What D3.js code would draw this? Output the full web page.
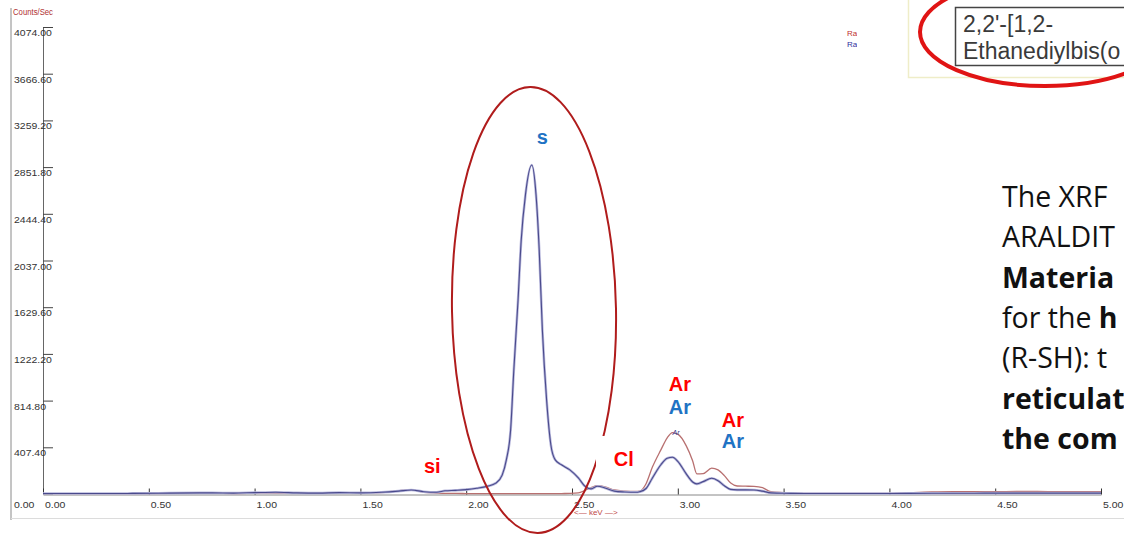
<!DOCTYPE html>
<html>
<head>
<meta charset="utf-8">
<script src="https://cdn.jsdelivr.net/npm/d3@7"></script>
<style>
  html, body { margin: 0; padding: 0; background: #fff; }
  svg { display: block; }
</style>
</head>
<body>
<svg id="chart" width="1124" height="534"></svg>
<script>
// XRF spectrum: energy (keV) against count rate (counts/sec) for two samples
const energyKeV = [
  0.00, 0.20, 0.40, 0.60, 0.80, 0.90, 1.00, 1.10, 1.20, 1.30, 1.40, 1.50,
  1.60, 1.68, 1.74, 1.80, 1.86, 1.90, 1.95, 2.00, 2.05, 2.10, 2.14, 2.17,
  2.19, 2.21, 2.225, 2.245, 2.26, 2.28, 2.31, 2.33, 2.345, 2.36, 2.38, 2.40,
  2.42, 2.45, 2.49, 2.53, 2.56, 2.59, 2.62, 2.66, 2.70, 2.75, 2.80, 2.82,
  2.85, 2.88, 2.92, 2.95, 2.975, 3.00, 3.04, 3.07, 3.09, 3.12, 3.16, 3.19,
  3.22, 3.25, 3.28, 3.32, 3.36, 3.40, 3.44, 3.50, 3.60, 3.80, 4.00, 4.20,
  4.30, 4.40, 4.50, 4.60, 4.70, 4.80, 4.90, 5.00
];
const countsBlue = [
  5, 5, 5, 8, 10, 8, 12, 15, 10, 8, 12, 10,
  15, 25, 35, 20, 15, 28, 32, 38, 50, 68, 95, 165,
  300, 560, 1080, 1690, 2215, 2610, 2870, 2610, 2130, 1430, 820, 430,
  300, 255, 210, 140, 70, 45, 68, 50, 25, 18, 15, 20,
  48, 140, 255, 312, 320, 285, 175, 105, 88, 108, 137, 116,
  72, 40, 36, 36, 35, 25, 10, 6, 5, 5, 5, 6,
  7, 7, 8, 8, 8, 8, 8, 8
];
const countsRed = [
  3, 3, 3, 5, 6, 4, 6, 8, 5, 5, 7, 6,
  12, 30, 38, 15, 8, 5, 5, 4, 3, 3, 3, 3,
  3, 3, 3, 3, 3, 3, 3, 3, 3, 3, 3, 3,
  3, 4, 5, 10, 30, 55, 72, 60, 35, 25, 22, 25,
  90, 235, 385, 490, 535, 522, 420, 290, 175, 178, 225, 210,
  160, 95, 70, 68, 66, 55, 20, 12, 6, 6, 6, 18,
  20, 20, 20, 22, 22, 20, 20, 20
];

const xTickValues = [0, 0.5, 1, 1.5, 2, 2.5, 3, 3.5, 4, 4.5, 5];
const yTickValues = [0, 407.4, 814.8, 1222.2, 1629.6, 2037, 2444.4, 2851.8, 3259.2, 3666.6, 4074];

// element annotations placed at an energy (keV) and a baseline row
const peakLabels = [
  { text: "s",  x: 2.36, y: 144, color: "#1f73c4" },
  { text: "si", x: 1.84, y: 473, color: "#ff0000" },
  { text: "Cl", x: 2.745, y: 466, color: "#ff0000" },
  { text: "Ar", x: 3.01, y: 391, color: "#ff0000" },
  { text: "Ar", x: 3.01, y: 414, color: "#1f73c4" },
  { text: "Ar", x: 3.26, y: 427, color: "#ff0000" },
  { text: "Ar", x: 3.26, y: 448, color: "#1f73c4" }
];

const noteLines = [
  [{ t: "The XRF", b: false }],
  [{ t: "ARALDIT", b: false }],
  [{ t: "Materia", b: true }],
  [{ t: "for the ", b: false }, { t: "h", b: true }],
  [{ t: "(R-SH): t", b: false }],
  [{ t: "reticulat", b: true }],
  [{ t: "the com", b: true }]
];

const svg = d3.select("#chart");

const x = d3.scaleLinear().domain([0, 5]).range([43, 1101]);
const y = d3.scaleLinear().domain([0, 4074]).range([494, 27]);

const fmt = d3.format(".2f");
// the instrument font is drawn wide: stretch each label to its digit count
const labelWidth = s => s.replace(".", "").length * 5.8 + 3;

// outer frame lines
svg.append("line").attr("x1", 11).attr("x2", 11).attr("y1", 8).attr("y2", 520)
  .attr("stroke", "#8a8a8a").attr("stroke-width", 1);
svg.append("line").attr("x1", 11).attr("x2", 1124).attr("y1", 518.5).attr("y2", 518.5)
  .attr("stroke", "#dcdcdc").attr("stroke-width", 1);

svg.append("text").attr("x", 13).attr("y", 15)
  .attr("font-family", "Liberation Sans, Arial, sans-serif")
  .attr("font-size", 8.5).attr("fill", "#b03030")
  .attr("textLength", 40).attr("lengthAdjust", "spacingAndGlyphs")
  .text("Counts/Sec");

// y axis
const yAxis = d3.axisRight(y).tickValues(yTickValues).tickSize(10).tickFormat("");
const gy = svg.append("g").attr("transform", "translate(43,0)").call(yAxis);
gy.select(".domain").attr("stroke", "#666");
gy.selectAll(".tick line").attr("stroke", "#444");
svg.append("g").selectAll("text").data(yTickValues).join("text")
  .attr("x", 14).attr("y", d => d === 0 ? 508 : y(d) + 9)
  .attr("font-family", "Liberation Sans, Arial, sans-serif")
  .attr("font-size", 9).attr("fill", "#333")
  .attr("textLength", d => labelWidth(fmt(d))).attr("lengthAdjust", "spacingAndGlyphs")
  .text(d => fmt(d));

// x axis
const xAxis = d3.axisTop(x).tickValues(xTickValues).tickSize(6).tickSizeOuter(0).tickFormat("");
const gx = svg.append("g").attr("transform", "translate(0,494.5)").call(xAxis);
gx.select(".domain").attr("stroke", "#888");
gx.selectAll(".tick line").attr("stroke", "#333");
svg.append("g").selectAll("text").data(xTickValues).join("text")
  .attr("x", d => x(d) + 2).attr("y", 508)
  .attr("font-family", "Liberation Sans, Arial, sans-serif")
  .attr("font-size", 9).attr("fill", "#333")
  .attr("textLength", d => labelWidth(fmt(d))).attr("lengthAdjust", "spacingAndGlyphs")
  .text(d => fmt(d));

svg.append("text").attr("x", 574).attr("y", 515)
  .attr("font-family", "Liberation Sans, Arial, sans-serif")
  .attr("font-size", 8).attr("fill", "#c04848")
  .text("<\u2014 keV \u2014>");

// spectra
const line = d3.line().curve(d3.curveMonotoneX)
  .x((d, i) => x(energyKeV[i])).y(d => y(d));

svg.append("path").datum(countsRed).attr("d", line)
  .attr("fill", "none").attr("stroke", "#b87070").attr("stroke-width", 1.3);
svg.append("path").datum(countsBlue).attr("d", line)
  .attr("fill", "none").attr("stroke", "#b8b8dc").attr("stroke-width", 2.6);
svg.append("path").datum(countsBlue).attr("d", line)
  .attr("fill", "none").attr("stroke", "#4a4a8c").attr("stroke-width", 1.1);

// small peak tag on the argon peak
svg.append("text").attr("x", x(2.975)).attr("y", y(535) + 2)
  .attr("font-family", "Liberation Sans, Arial, sans-serif")
  .attr("font-size", 7).attr("font-style", "italic").attr("fill", "#3a3a90")
  .text("Ar");

// legend entries (clipped)
svg.append("clipPath").attr("id", "legclip").append("rect")
  .attr("x", 845).attr("y", 25).attr("width", 12).attr("height", 25);
const leg = svg.append("g").attr("clip-path", "url(#legclip)")
  .attr("font-family", "Liberation Sans, Arial, sans-serif").attr("font-size", 8);
leg.append("text").attr("x", 847).attr("y", 36).attr("fill", "#c03030").text("Ra");
leg.append("text").attr("x", 847).attr("y", 47).attr("fill", "#3030a0").text("Ra");

// highlight ellipse around the sulphur peak
svg.append("ellipse")
  .attr("cx", 534).attr("cy", 310).attr("rx", 82).attr("ry", 223)
  .attr("transform", "rotate(-1 534 310)")
  .attr("fill", "none").attr("stroke", "#b01c1c").attr("stroke-width", 2);

// white patch behind the chlorine label
svg.append("rect").attr("x", 596).attr("y", 436).attr("width", 44).attr("height", 47)
  .attr("fill", "#fff");

// element labels
svg.append("g").selectAll("text").data(peakLabels).join("text")
  .attr("x", d => x(d.x)).attr("y", d => d.y)
  .attr("text-anchor", "middle")
  .attr("font-family", "Liberation Sans, Arial, sans-serif")
  .attr("font-weight", "bold").attr("font-size", 20)
  .attr("fill", d => d.color)
  .text(d => d.text);

// compound name box, top right
svg.append("rect").attr("x", 908.5).attr("y", -2).attr("width", 230).attr("height", 79.5)
  .attr("fill", "#fff").attr("stroke", "#efedc8").attr("stroke-width", 1.5);
svg.append("rect").attr("x", 955.5).attr("y", 7.5).attr("width", 200).attr("height", 58)
  .attr("fill", "#fff").attr("stroke", "#444").attr("stroke-width", 1.5);
const nameText = svg.append("g")
  .attr("font-family", "Liberation Sans, Arial, sans-serif")
  .attr("font-size", 23).attr("fill", "#3a3a3a");
nameText.append("text").attr("x", 963).attr("y", 32).text("2,2'-[1,2-");
nameText.append("text").attr("x", 963).attr("y", 59).text("Ethanediylbis(o");
svg.append("ellipse")
  .attr("cx", 1045).attr("cy", 32).attr("rx", 125).attr("ry", 54)
  .attr("fill", "none").attr("stroke", "#e01414").attr("stroke-width", 4);

// description text on the right
const note = svg.append("g")
  .attr("font-family", "Open Sans, Lato, sans-serif")
  .attr("font-size", 28.5).attr("fill", "#111");
noteLines.forEach((parts, i) => {
  const t = note.append("text").attr("x", 1002).attr("y", 207 + i * 40.3);
  parts.forEach(p => {
    t.append("tspan").attr("font-weight", p.b ? "bold" : "normal").text(p.t);
  });
});
</script>
</body>
</html>
